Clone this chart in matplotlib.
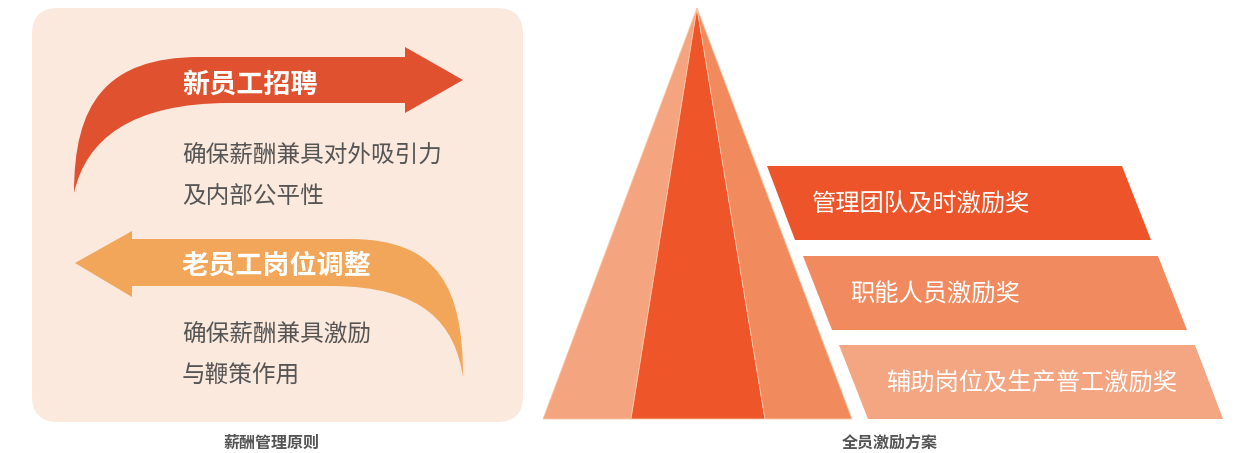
import matplotlib
matplotlib.use('Agg')
import matplotlib.pyplot as plt
from matplotlib.path import Path
from matplotlib.patches import PathPatch, Polygon, FancyBboxPatch

plt.rcParams['font.family'] = ['Noto Sans CJK SC', 'DejaVu Sans']

# ---- content ----
arrow_titles = ['新员工招聘', '老员工岗位调整']
arrow_notes = [['确保薪酬兼具对外吸引力', '及内部公平性'],
               ['确保薪酬兼具激励', '与鞭策作用']]
left_caption = '薪酬管理原则'

band_labels = ['管理团队及时激励奖', '职能人员激励奖', '辅助岗位及生产普工激励奖']
right_caption = '全员激励方案'

# ---- colours ----
panel_bg = '#FCE9DD'
red_arrow = '#E0512F'
orange_arrow = '#F2A65A'
pyr_colors = ['#F4A47E', '#EE5529', '#F18A5D']
band_colors = ['#EE5429', '#F18A5E', '#F4A582']
note_gray = '#555555'

fig = plt.figure(figsize=(12.36, 4.53), dpi=100)
ax = fig.add_axes([0, 0, 1, 1])
ax.set_xlim(0, 1236)
ax.set_ylim(453, 0)
ax.axis('off')

# ---- left panel ----
ax.add_patch(FancyBboxPatch((32, 8), 491, 414,
                            boxstyle='round,pad=0,rounding_size=26',
                            fc=panel_bg, ec='none'))

M, L, C4 = Path.MOVETO, Path.LINETO, Path.CURVE4

# upper arrow, pointing right, tail curving down to the left
up_verts = [(74, 193),
            (74, 105), (105, 57), (200, 57),
            (405, 57), (405, 47), (463, 80), (405, 113), (405, 103),
            (230, 103),
            (130, 103), (86, 140), (74, 193)]
up_codes = [M, C4, C4, C4, L, L, L, L, L, L, C4, C4, C4]
ax.add_patch(PathPatch(Path(up_verts, up_codes), fc=red_arrow, ec='none'))

# lower arrow, pointing left, tail curving down to the right
lo_verts = [(75, 263), (132, 231), (132, 239),
            (350, 239),
            (440, 239), (463, 290), (463, 377),
            (455, 325), (425, 286), (330, 286),
            (132, 286), (132, 297), (75, 263)]
lo_codes = [M, L, L, L, C4, C4, C4, C4, C4, C4, L, L, L]
ax.add_patch(PathPatch(Path(lo_verts, lo_codes), fc=orange_arrow, ec='none'))

title_y = [85, 266]
note_y = [[155, 196], [334, 376]]
for i, t in enumerate(arrow_titles):
    ax.text(182, title_y[i], t, color='white', fontsize=19.5,
            fontweight='bold', va='center', ha='left')
    for j, n in enumerate(arrow_notes[i]):
        ax.text(182, note_y[i][j], n, color=note_gray, fontsize=17,
                va='center', ha='left')

ax.text(272, 443, left_caption, color=note_gray, fontsize=11.5,
        fontweight='bold', ha='center', va='center')

# ---- pyramid ----
apex = (697, 8)
base_y = 419
base_x = [543, 631, 765, 852]
for k in range(3):
    ax.add_patch(Polygon([apex, (base_x[k], base_y), (base_x[k + 1], base_y)],
                         closed=True, fc=pyr_colors[k], ec='#F9C9A8', lw=0.6))

# ---- bands ----
band_top = [166, 256, 345]
band_bot = [240, 330, 419]
band_tl = [767, 803, 839]
band_tr = [1122, 1158, 1195]
band_bl = [795, 832, 868]
band_br = [1151, 1187, 1223]
text_x = [812, 850, 886]
for k, lab in enumerate(band_labels):
    ax.add_patch(Polygon([(band_tl[k], band_top[k]), (band_tr[k], band_top[k]),
                          (band_br[k], band_bot[k]), (band_bl[k], band_bot[k])],
                         closed=True, fc=band_colors[k], ec='none'))
    ax.text(text_x[k], (band_top[k] + band_bot[k]) / 2 + 2, lab, color='white',
            fontsize=17.5, ha='left', va='center')

ax.text(890, 443, right_caption, color=note_gray, fontsize=11.5,
        fontweight='bold', ha='center', va='center')

fig.savefig('out.png', dpi=100)
